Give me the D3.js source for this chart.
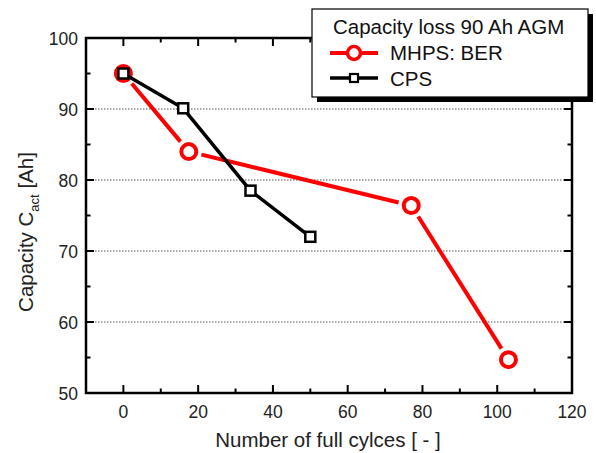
<!DOCTYPE html>
<html><head><meta charset="utf-8">
<script src="https://cdn.jsdelivr.net/npm/d3@7"></script>
<style>body{margin:0;background:#fff}svg{display:block;font-family:"Liberation Sans",Arial,sans-serif}</style>
</head><body>
<svg id="c" width="596" height="453"></svg>
<script>
const mhpsX = [0, 17.5, 77, 103];
const mhpsY = [95, 84, 76.4, 54.7];
const cpsX = [0, 16, 34, 50];
const cpsY = [95, 90.1, 78.5, 72];
const xTicks = [0, 20, 40, 60, 80, 100, 120];
const yTicks = [50, 60, 70, 80, 90, 100];
const gridY = [60, 70, 80, 90];
const legendTitle = "Capacity loss 90 Ah AGM";
const seriesNames = ["MHPS: BER", "CPS"];

const svg = d3.select("#c");
const L = 86, R = 572, T = 38, B = 393;
const x = d3.scaleLinear().domain([-10, 120]).range([L, R]);
const y = d3.scaleLinear().domain([50, 100]).range([B, T]);

// grid
svg.append("g").selectAll("line").data(gridY).join("line")
  .attr("x1", L).attr("x2", R).attr("y1", d => y(d)).attr("y2", d => y(d))
  .attr("stroke", "#555").attr("stroke-width", 1).attr("stroke-dasharray", "1.5,1.5");

// axes with inward ticks
const xMinor = d3.range(-10, 121, 10).filter(v => !xTicks.includes(v) && v > -10 && v < 120);
const yMinor = d3.range(55, 100, 10);
function ticksX(yPos, dir) {
  const g = svg.append("g");
  g.selectAll("line.M").data(xTicks.filter(v => v < 120)).join("line")
    .attr("x1", d => x(d)).attr("x2", d => x(d)).attr("y1", yPos).attr("y2", yPos + dir * 8)
    .attr("stroke", "#000").attr("stroke-width", 2);
  g.selectAll("line.m").data(xMinor).join("line")
    .attr("x1", d => x(d)).attr("x2", d => x(d)).attr("y1", yPos).attr("y2", yPos + dir * 4.5)
    .attr("stroke", "#000").attr("stroke-width", 2);
}
function ticksY(xPos, dir) {
  const g = svg.append("g");
  g.selectAll("line.M").data(yTicks.filter(v => v > 50 && v < 100)).join("line")
    .attr("y1", d => y(d)).attr("y2", d => y(d)).attr("x1", xPos).attr("x2", xPos + dir * 8)
    .attr("stroke", "#000").attr("stroke-width", 2);
  g.selectAll("line.m").data(yMinor).join("line")
    .attr("y1", d => y(d)).attr("y2", d => y(d)).attr("x1", xPos).attr("x2", xPos + dir * 4.5)
    .attr("stroke", "#000").attr("stroke-width", 2);
}
ticksX(B, -1); ticksX(T, 1); ticksY(L, 1); ticksY(R, -1);

svg.append("rect").attr("x", L).attr("y", T).attr("width", R - L).attr("height", B - T)
  .attr("fill", "none").attr("stroke", "#000").attr("stroke-width", 2.5);

// tick labels
svg.append("g").selectAll("text").data(xTicks).join("text")
  .attr("x", d => x(d)).attr("y", 418).attr("text-anchor", "middle")
  .attr("font-size", 17.5).attr("fill", "#222").text(d => d);
svg.append("g").selectAll("text").data(yTicks).join("text")
  .attr("x", 78).attr("y", d => y(d) + 6.5).attr("text-anchor", "end")
  .attr("font-size", 17.5).attr("fill", "#222").text(d => d);

// axis titles
svg.append("text").attr("x", 328).attr("y", 447).attr("text-anchor", "middle")
  .attr("font-size", 20.5).attr("fill", "#222").text("Number of full cylces [ - ]");
const yt = svg.append("text").attr("transform", "translate(33,232) rotate(-90)")
  .attr("text-anchor", "middle").attr("font-size", 20.5).attr("fill", "#222");
yt.append("tspan").text("Capacity C");
yt.append("tspan").attr("font-size", 13).attr("dy", 6).text("act");
yt.append("tspan").attr("dy", -6).text(" [Ah]");

// series
function gappedSegments(xs, ys, gapA, gapB) {
  const pts = xs.map((v, i) => [x(v), y(ys[i])]);
  const segs = [];
  for (let i = 0; i < pts.length - 1; i++) {
    const [x1, y1] = pts[i], [x2, y2] = pts[i + 1];
    const len = Math.hypot(x2 - x1, y2 - y1);
    const ux = (x2 - x1) / len, uy = (y2 - y1) / len;
    segs.push([x1 + ux * gapA, y1 + uy * gapA, x2 - ux * gapB, y2 - uy * gapB]);
  }
  return segs;
}
const red = "#ff0000";
svg.append("g").selectAll("line").data(gappedSegments(mhpsX, mhpsY, 13, 13)).join("line")
  .attr("x1", d => d[0]).attr("y1", d => d[1]).attr("x2", d => d[2]).attr("y2", d => d[3])
  .attr("stroke", red).attr("stroke-width", 4);
svg.append("g").selectAll("circle").data(mhpsX).join("circle")
  .attr("cx", d => x(d)).attr("cy", (d, i) => y(mhpsY[i])).attr("r", 7.5)
  .attr("fill", "#fff").attr("stroke", red).attr("stroke-width", 4);

svg.append("path").datum(cpsX.map((v, i) => [v, cpsY[i]]))
  .attr("d", d3.line().x(d => x(d[0])).y(d => y(d[1])))
  .attr("fill", "none").attr("stroke", "#000").attr("stroke-width", 3.5);
svg.append("g").selectAll("rect").data(cpsX).join("rect")
  .attr("x", d => x(d) - 5).attr("y", (d, i) => y(cpsY[i]) - 5).attr("width", 10).attr("height", 10)
  .attr("fill", "#fff").attr("stroke", "#000").attr("stroke-width", 2.5);

// legend
const lg = svg.append("g");
lg.append("rect").attr("x", 317).attr("y", 14).attr("width", 276).attr("height", 88).attr("fill", "#000");
lg.append("rect").attr("x", 312).attr("y", 9).attr("width", 276).attr("height", 88)
  .attr("fill", "#fff").attr("stroke", "#000").attr("stroke-width", 1.2);
lg.append("text").attr("x", 333).attr("y", 34).attr("font-size", 20.5).attr("fill", "#111").text(legendTitle);
lg.append("line").attr("x1", 330).attr("x2", 378).attr("y1", 53).attr("y2", 53).attr("stroke", red).attr("stroke-width", 4);
lg.append("circle").attr("cx", 354).attr("cy", 53).attr("r", 6.5).attr("fill", "#fff").attr("stroke", red).attr("stroke-width", 3.5);
lg.append("text").attr("x", 390).attr("y", 60).attr("font-size", 20.5).attr("fill", "#111").text(seriesNames[0]);
lg.append("line").attr("x1", 330).attr("x2", 378).attr("y1", 78).attr("y2", 78).attr("stroke", "#000").attr("stroke-width", 3.5);
lg.append("rect").attr("x", 350).attr("y", 74).attr("width", 8).attr("height", 8).attr("fill", "#fff").attr("stroke", "#000").attr("stroke-width", 2.2);
lg.append("text").attr("x", 390).attr("y", 86).attr("font-size", 20.5).attr("fill", "#111").text(seriesNames[1]);
</script>
</body></html>
